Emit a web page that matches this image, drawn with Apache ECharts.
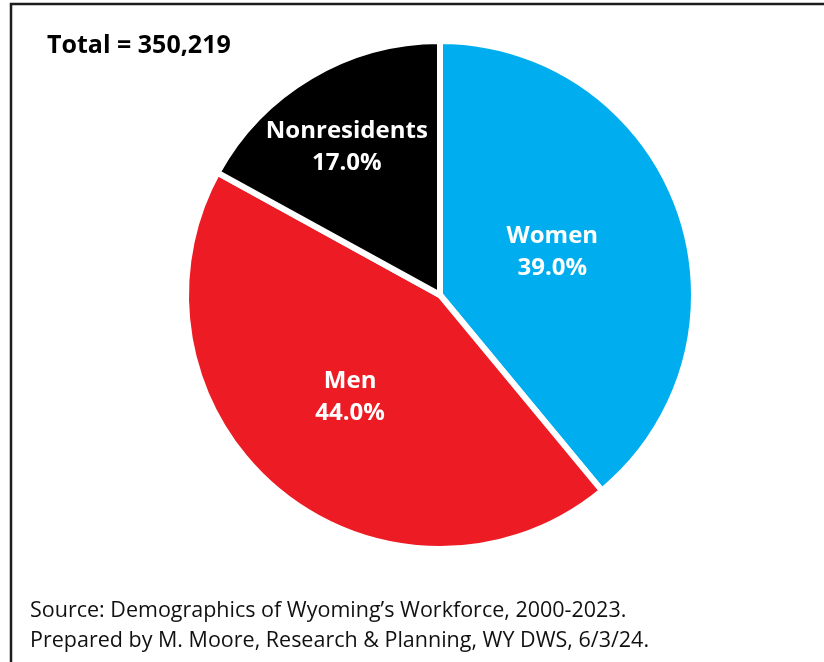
<!DOCTYPE html>
<html>
<head>
<meta charset="utf-8">
<style>
  html, body { margin: 0; padding: 0; background: #fff; }
  #chart { width: 824px; height: 662px; }
</style>
<script src="https://cdn.jsdelivr.net/npm/echarts@6/dist/echarts.min.js"></script>
</head>
<body>
<div id="chart"></div>
<script>
var categories = ['Women', 'Men', 'Nonresidents'];
var shares = [39.0, 44.0, 17.0];
var colors = ['#00AEEF', '#ED1C24', '#000000'];
var totalText = 'Total = 350,219';
var sourceLines = [
  'Source: Demographics of Wyoming\u2019s Workforce, 2000-2023.',
  'Prepared by M. Moore, Research & Planning, WY DWS, 6/3/24.'
];
// label nudges (px) per slice: [dx, dy]
var labelNudge = [[-10, 1], [-7, 2], [-27, -36]];

var chart = echarts.init(document.getElementById('chart'), null, { renderer: 'canvas' });

var option = {
  backgroundColor: '#ffffff',
  animation: false,
  graphic: [
    {
      type: 'polyline',
      shape: { points: [[11, 662], [11, 4], [824, 4]] },
      style: { stroke: '#1c1c1c', lineWidth: 2.5, fill: null }
    },
    {
      type: 'text',
      left: 47,
      top: 33,
      style: {
        text: totalText,
        font: 'bold 25px "Open Sans"',
        fill: '#000'
      }
    },
    {
      type: 'text',
      left: 30,
      top: 596,
      style: {
        text: sourceLines.join('\n'),
        font: '21.5px "Open Sans"',
        lineHeight: 30,
        fill: '#111'
      }
    }
  ],
  series: [
    {
      type: 'pie',
      center: [440, 295],
      radius: 254,
      startAngle: 90,
      clockwise: true,
      data: categories.map(function (c, i) {
        return { name: c, value: shares[i], itemStyle: { color: colors[i] } };
      }),
      itemStyle: { borderColor: '#ffffff', borderWidth: 6 },
      label: {
        show: true,
        position: 'inside',
        formatter: function (p) { return p.name + '\n' + p.value.toFixed(1) + '%'; },
        color: '#ffffff',
        fontFamily: 'Open Sans',
        fontWeight: 'bold',
        fontSize: 24,
        lineHeight: 32,
        align: 'center'
      },
      labelLayout: function (params) {
        var n = labelNudge[params.dataIndex] || [0, 0];
        return { dx: n[0], dy: n[1] };
      },
      labelLine: { show: false },
      emphasis: { disabled: true }
    }
  ]
};
chart.setOption(option);
</script>
</body>
</html>
